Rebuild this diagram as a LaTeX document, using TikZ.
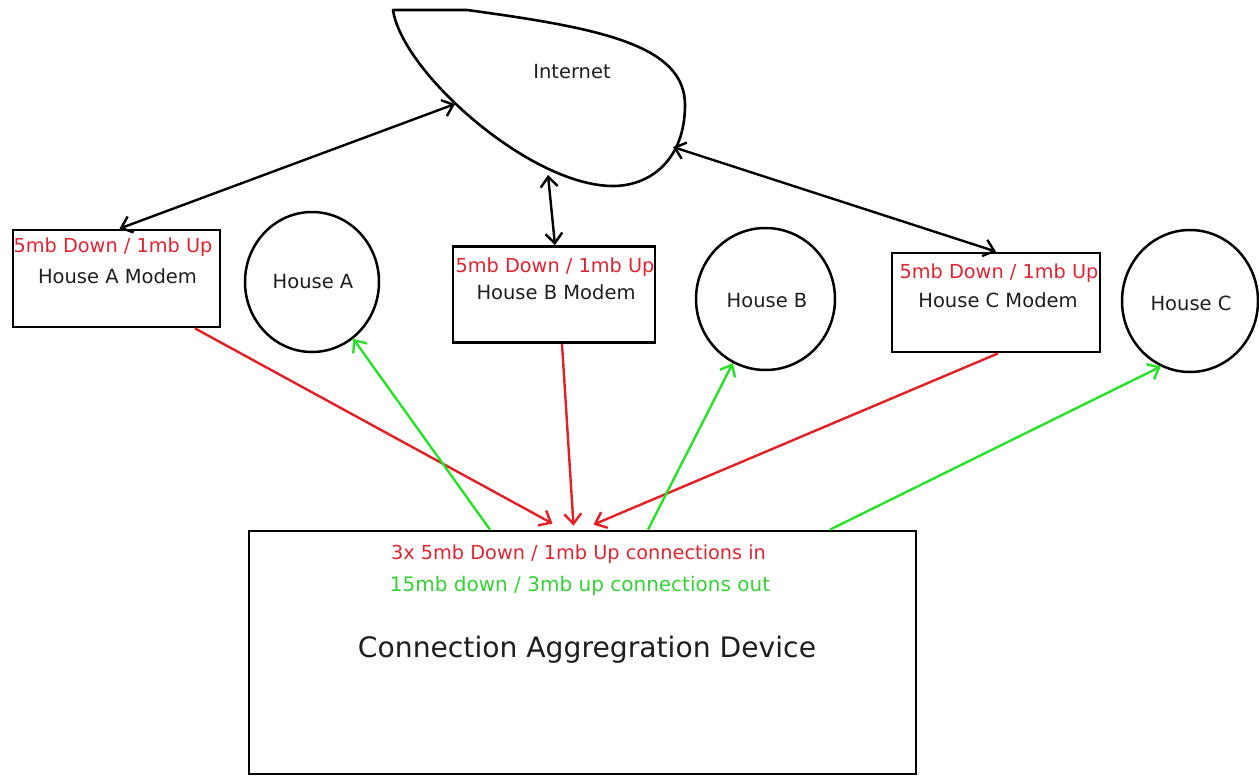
\documentclass[tikz,border=0pt]{standalone}
\usepackage{fontspec}
\setmainfont{DejaVu Sans}
\usetikzlibrary{arrows.meta,shapes.geometric}
\definecolor{linkred}{RGB}{226,32,36}
\definecolor{linkgreen}{RGB}{40,226,40}
\definecolor{txtred}{RGB}{224,36,48}
\definecolor{txtgreen}{RGB}{52,210,52}
\definecolor{ink}{RGB}{30,30,30}

\begin{document}
\begin{tikzpicture}[x=1pt,y=-1pt,
  modembox/.style={draw=black,line width=2.8pt,inner sep=0pt},
  house/.style={draw=black,ellipse,line width=2.5pt,inner sep=0pt},
  rate/.style={text=txtred,font=\fontsize{19.3}{23}\selectfont,anchor=base,inner sep=0pt},
  lbl/.style={text=ink,font=\fontsize{19.5}{23}\selectfont,anchor=base,inner sep=0pt},
  barb/.tip={Straight Barb[length=10pt,width=17pt,line width=2.4pt]},
  tip/.style={-barb},
  bothtip/.style={barb-barb},
  uplink/.style={draw=black,line width=2.4pt,bothtip},
  inlink/.style={draw=linkred,line width=2.4pt,tip},
  outlink/.style={draw=linkgreen,line width=2.4pt,tip}]

\useasboundingbox[fill=white] (0,0) rectangle (1259,776);

% the internet cloud
\draw[line width=2.6pt,line join=round]
  (393,10) -- (467,10)
  .. controls (600,28) and (685,45) .. (685,105)
  .. controls (685,160) and (650,186) .. (613,186)
  .. controls (530,186) and (402,72) .. (393,10) -- cycle;
\node[lbl] (internet) at (572,78) {Internet};
\coordinate (cloudL) at (455,104);
\coordinate (cloudB) at (548,175);
\coordinate (cloudR) at (673,147);

% modems
\node[modembox,minimum width=207pt,minimum height=97pt] (modemA) at (116.5,278.5) {};
\node[modembox,minimum width=202pt,minimum height=96pt] (modemB) at (554,294.5) {};
\node[modembox,minimum width=208pt,minimum height=99pt] (modemC) at (996,302.5) {};
\node[rate] (rateA) at (113,252) {5mb Down / 1mb Up};
\node[lbl] (nameA) at (117.5,283) {House A Modem};
\node[rate] (rateB) at (555,272) {5mb Down / 1mb Up};
\node[lbl] (nameB) at (556,299) {House B Modem};
\node[rate] (rateC) at (999,278) {5mb Down / 1mb Up};
\node[lbl] (nameC) at (998,307) {House C Modem};

% houses
\node[house,minimum width=134pt,minimum height=140pt] (houseA) at (312,282) {};
\node[house,minimum width=139pt,minimum height=142pt] (houseB) at (765.5,299) {};
\node[house,minimum width=136pt,minimum height=142pt] (houseC) at (1190,301) {};
\node[lbl] (houseAlbl) at (313,288) {House A};
\node[lbl] (houseBlbl) at (767,307) {House B};
\node[lbl] (houseClbl) at (1191,310) {House C};

% aggregation device
\node[modembox,minimum width=667pt,minimum height=243pt] (agg) at (582.5,652.5) {};
\node[rate] (aggin) at (578.5,559) {3x 5mb Down / 1mb Up connections in};
\node[rate,font=\fontsize{20}{24}\selectfont,text=txtgreen] (aggout) at (580,591) {15mb down / 3mb up connections out};
\node[lbl,font=\fontsize{28.2}{33}\selectfont] (aggname) at (587,657) {Connection Aggregration Device};

% links to the internet
\draw[uplink] (cloudL) -- ([xshift=3pt]modemA.north);
\draw[uplink] (cloudB) -- ([xshift=1pt]modemB.north);
\draw[uplink] (cloudR) -- (modemC.north);

% modem links into the device
\draw[inlink] ([xshift=78.5pt]modemA.south) -- ([xshift=-30pt,yshift=6pt]agg.north);
\draw[inlink] ([xshift=8pt]modemB.south) -- ([xshift=-9pt,yshift=4pt]agg.north);
\draw[inlink] ([xshift=2pt]modemC.south) -- ([xshift=11pt,yshift=5pt]agg.north);

% device links out to the houses
\draw[outlink] ([xshift=-92.5pt]agg.north) -- (houseA.-54);
\draw[outlink] ([xshift=65.5pt]agg.north) -- (houseB.-117);
\draw[outlink] ([xshift=247.5pt]agg.north) -- (houseC.-114);
\end{tikzpicture}
\end{document}
